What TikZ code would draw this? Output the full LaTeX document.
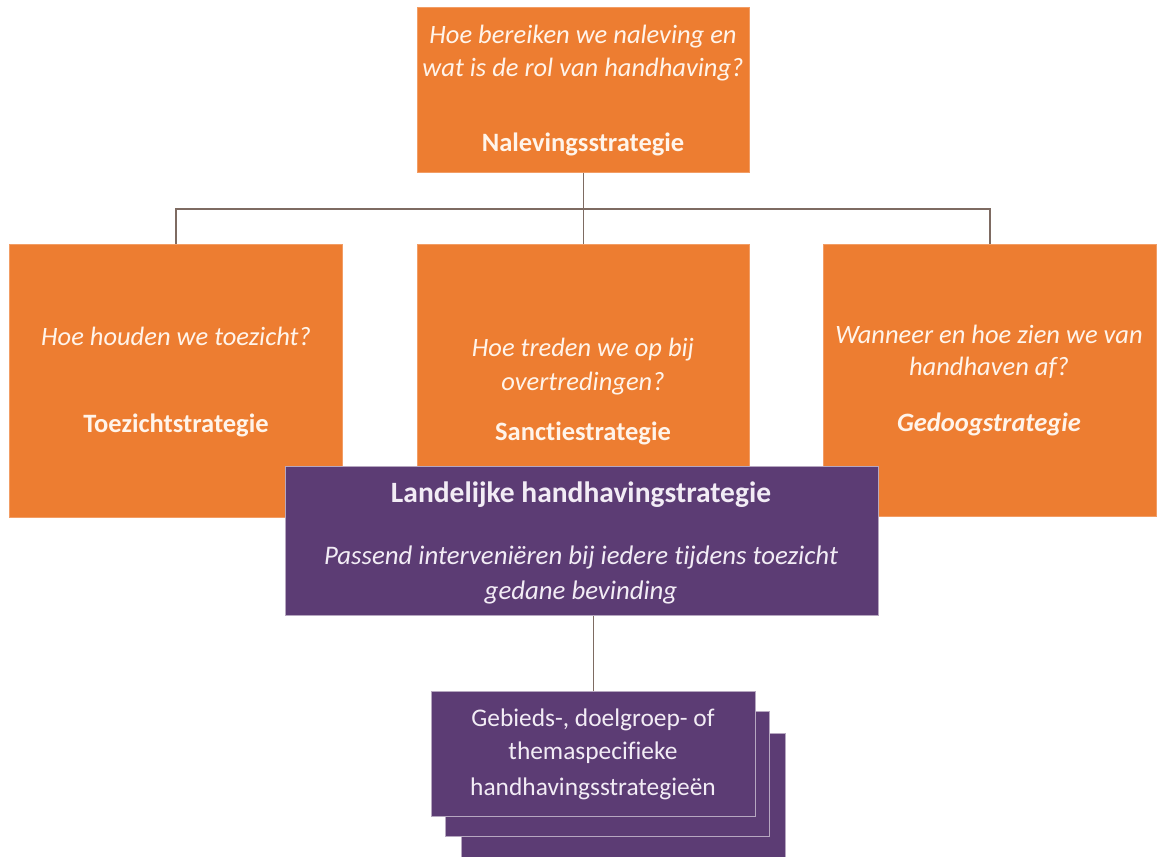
\documentclass[tikz,border=0pt]{standalone}
\usepackage{fontspec}
\setmainfont{Carlito}[Ligatures=NoCommon]
\definecolor{org}{HTML}{ED7D31}
\definecolor{pur}{HTML}{5C3C74}
\definecolor{conn}{HTML}{7E6B62}
\definecolor{otxt}{HTML}{FFF4EA}
\definecolor{ptxt}{HTML}{F2ECF5}
\begin{document}
\begin{tikzpicture}[x=1pt,y=-1pt,
  obox/.style={fill=org, draw=org!75!white, line width=0.8pt, inner sep=0pt, anchor=north west},
  pbox/.style={fill=pur, draw=pur!45!white, line width=1.2pt, inner sep=0pt, anchor=north west},
  conline/.style={draw=conn, line width=1.6pt},
  ot/.style={text=otxt, anchor=mid, inner sep=0pt, font=\fontsize{26.5}{32}\selectfont},
  pt/.style={text=ptxt, anchor=mid, inner sep=0pt, font=\fontsize{26.8}{32}\selectfont},
  st/.style={text=ptxt, anchor=mid, inner sep=0pt, font=\fontsize{25.4}{30}\selectfont}
]
\useasboundingbox (0,0) rectangle (1158,856);
\clip (0,0) rectangle (1158,856);
\fill[white] (0,0) rectangle (1158,856);

% orange boxes and connectors
\node[obox, minimum width=332pt, minimum height=165pt] (top) at (417,7) {};
\node[obox, minimum width=333pt, minimum height=273pt] (lft) at (9,244) {};
\node[obox, minimum width=332pt, minimum height=273pt] (mid) at (417,244) {};
\node[obox, minimum width=333pt, minimum height=272pt] (rgt) at (823,244) {};
\coordinate (bus) at (583,209);
\draw[conline] (top.south) -- (mid.north);
\draw[conline] (lft.north) |- (bus) -| (rgt.north);

% texts orange
\node[ot] (q1a) at (583,41) {\itshape Hoe bereiken we naleving en};
\node[ot] (q1b) at (583,74) {\itshape wat is de rol van handhaving?};
\node[ot] (s1) at (583,149) {\bfseries Nalevingsstrategie};
\node[ot] (q2) at (176,343) {\itshape Hoe houden we toezicht?};
\node[ot] (s2) at (176,430) {\bfseries Toezichtstrategie};
\node[ot] (q3a) at (583,354) {\itshape Hoe treden we op bij};
\node[ot] (q3b) at (583,388) {\itshape overtredingen?};
\node[ot] (s3) at (583,438) {\bfseries Sanctiestrategie};
\node[ot] (q4a) at (989,341) {\itshape Wanneer en hoe zien we van};
\node[ot] (q4b) at (989,373) {\itshape handhaven af?};
\node[ot] (s4) at (989,429) {\bfseries\itshape Gedoogstrategie};

% purple main box
\node[pbox, minimum width=593pt, minimum height=149pt] (land) at (285,466) {};
\node[pt, font=\fontsize{29.5}{34}\selectfont\bfseries] (lt) at (581,500) {Landelijke handhavingstrategie};
\node[pt] (l1) at (581,562) {\itshape Passend interveniëren bij iedere tijdens toezicht};
\node[pt] (l2) at (581,597) {\itshape gedane bevinding};

% stacked boxes
\node[pbox, minimum width=324pt, minimum height=125pt] (st3) at (461,733) {};
\node[pbox, minimum width=324pt, minimum height=125pt] (st2) at (445,711) {};
\node[pbox, minimum width=324pt, minimum height=125pt] (st1) at (431,691) {};
\draw[conline] (st1.north) -- (st1.north |- land.south);
\node[st] (g1) at (593,724) {Gebieds-, doelgroep- of};
\node[st] (g2) at (593,757) {themaspecifieke};
\node[st] (g3) at (593,793) {handhavingsstrategieën};
\end{tikzpicture}
\end{document}
